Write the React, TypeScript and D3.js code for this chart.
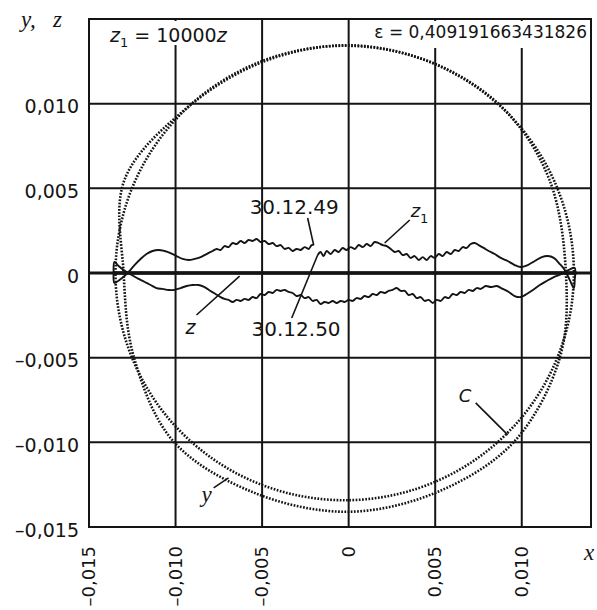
import React from "react";
import * as d3 from "d3";

// ---- data (all coordinate values below are in units of 10^-3) ----
const UNIT = 1e-3;
const xDomain = [-0.015, 0.014];
const yDomain = [-0.015, 0.015];
const xTicks = [-0.015, -0.01, -0.005, 0, 0.005, 0.01];
const yTicks = [-0.015, -0.01, -0.005, 0, 0.005, 0.01];
const epsilonText = "ε = 0,409191663431826";
const z1Factor = 10000;

// z1 trajectory: 30.12.50 -> right end -> lower branch -> left end -> 30.12.49
const z1UpperRight: [number, number][] = [
  [-1.79, 1.06], [-1.62, 1.24], [-1.45, 1.0], [-1.27, 1.3], [-1.04, 1.12], [-0.81, 1.36],
  [-0.58, 1.24], [-0.35, 1.48], [-0.12, 1.36], [0.12, 1.53], [0.35, 1.42], [0.58, 1.65],
  [0.81, 1.53], [1.04, 1.71], [1.27, 1.59], [1.5, 1.83], [1.73, 1.77], [1.97, 1.65],
  [2.2, 1.59], [2.43, 1.42], [2.66, 1.24], [2.89, 1.3], [3.12, 1.06], [3.35, 1.12],
  [3.58, 0.89], [3.81, 1.0], [4.05, 0.77], [4.28, 0.94], [4.51, 0.77], [4.74, 1.0],
  [4.97, 0.89], [5.2, 1.12], [5.43, 1.0], [5.66, 1.24], [5.9, 1.12], [6.13, 1.36],
  [6.36, 1.3], [6.59, 1.53], [6.82, 1.48], [7.05, 1.71], [7.28, 1.77], [7.51, 1.65],
  [7.8, 1.48], [8.09, 1.3], [8.44, 1.12], [8.79, 0.89], [9.19, 0.71], [9.59, 0.47],
  [9.94, 0.35], [10.35, 0.47], [10.75, 0.71], [11.16, 0.94], [11.5, 1.0], [11.85, 0.89],
  [12.2, 0.53], [12.48, 0.18], [12.77, -0.41], [13.01, -0.89], [13.06, -0.41], [13.06, 0.3],
];
const z1Lower: [number, number][] = [
  [12.72, 0.18], [12.31, -0.06], [11.85, -0.24], [11.44, -0.47], [11.04, -0.71], [10.64, -1.0],
  [10.29, -1.24], [9.94, -1.42], [9.59, -1.36], [9.25, -1.12], [8.9, -0.94], [8.55, -0.77],
  [8.21, -0.83], [7.92, -0.77], [7.63, -0.94], [7.4, -0.89], [7.17, -1.06], [6.94, -1.0],
  [6.7, -1.18], [6.47, -1.12], [6.24, -1.3], [6.01, -1.24], [5.78, -1.48], [5.55, -1.42],
  [5.32, -1.65], [5.09, -1.59], [4.86, -1.77], [4.62, -1.59], [4.39, -1.65], [4.16, -1.42],
  [3.93, -1.48], [3.7, -1.24], [3.47, -1.3], [3.24, -1.06], [3.01, -1.06], [2.77, -0.89],
  [2.54, -1.0], [2.31, -1.06], [2.08, -1.18], [1.85, -1.12], [1.62, -1.3], [1.39, -1.24],
  [1.16, -1.42], [0.92, -1.36], [0.69, -1.53], [0.46, -1.48], [0.23, -1.65], [0, -1.59],
  [-0.23, -1.71], [-0.46, -1.65], [-0.69, -1.77], [-0.92, -1.65], [-1.16, -1.77], [-1.39, -1.71],
  [-1.62, -1.83], [-1.85, -1.59], [-2.08, -1.65], [-2.31, -1.42], [-2.54, -1.48], [-2.77, -1.3],
  [-3.01, -1.36], [-3.24, -1.18], [-3.47, -1.12], [-3.7, -1.0], [-3.93, -1.06], [-4.16, -1.0],
  [-4.39, -1.18], [-4.62, -1.12], [-4.86, -1.3], [-5.09, -1.24], [-5.32, -1.48], [-5.55, -1.42],
  [-5.78, -1.59], [-6.01, -1.53], [-6.24, -1.65], [-6.47, -1.59], [-6.7, -1.71], [-6.94, -1.59],
  [-7.17, -1.53], [-7.4, -1.42], [-7.69, -1.24], [-7.98, -1.06], [-8.32, -0.83], [-8.67, -0.71],
  [-9.02, -0.71], [-9.36, -0.77], [-9.71, -0.89], [-10.06, -1.0], [-10.4, -1.0], [-10.75, -0.94],
  [-11.1, -0.89], [-11.44, -0.71], [-11.79, -0.53], [-12.14, -0.35], [-12.43, -0.18], [-12.72, 0],
  [-13.01, 0.18], [-13.29, 0.41], [-13.53, 0.65], [-13.58, 0.06], [-13.53, -0.59],
];
const z1UpperLeft: [number, number][] = [
  [-13.24, -0.41], [-12.95, -0.18], [-12.66, 0.12], [-12.37, 0.47], [-12.02, 0.83], [-11.68, 1.12],
  [-11.33, 1.3], [-10.98, 1.36], [-10.64, 1.3], [-10.29, 1.18], [-9.94, 1.0], [-9.59, 0.83],
  [-9.25, 0.77], [-8.9, 0.83], [-8.55, 0.94], [-8.21, 1.12], [-7.86, 1.3], [-7.63, 1.42],
  [-7.4, 1.36], [-7.17, 1.59], [-6.94, 1.53], [-6.7, 1.77], [-6.47, 1.71], [-6.24, 1.89],
  [-6.01, 1.77], [-5.78, 1.95], [-5.55, 1.89], [-5.32, 2.01], [-5.09, 1.83], [-4.86, 1.89],
  [-4.62, 1.71], [-4.39, 1.77], [-4.16, 1.59], [-3.93, 1.65], [-3.7, 1.42], [-3.47, 1.48],
  [-3.24, 1.3], [-3.01, 1.42], [-2.77, 1.36], [-2.54, 1.53], [-2.31, 1.42], [-2.14, 1.65],
  [-2.02, 1.65],
];

// circle C (centre and radii) and the curve y (closed)
const circleC = { cx: -0.23, cy: 0, rx: 13.24, ry: 13.42 };
const curveY: [number, number][] = [
  [0, 13.45], [5.0, 12.35], [9.0, 9.65], [11.6, 5.5], [12.55, 0], [12.2, -5.0],
  [9.55, -9.97], [5.2, -12.9], [0, -14.1], [-5.4, -13.0], [-10.1, -9.97], [-12.4, -5.0],
  [-13.0, 0], [-12.95, 5.5], [-9.4, 9.7], [-5.0, 12.45],
];

// annotations (anchor positions in data units, 10^-3)
const pointers: [number, number, number, number][] = [
  [-2.37, 3.25, -2.02, 1.65], // 30.12.49
  [-3.29, -2.66, -1.79, 1.06], // 30.12.50
  [3.53, 3.13, 2.08, 1.77], // z1
  [-8.79, -2.48, -6.3, -0.18], // z
  [-7.8, -12.69, -6.94, -12.1], // y
  [7.34, -7.67, 9.19, -9.56], // C
];

const fmt = (v: number) =>
  v === 0 ? "0" : (v < 0 ? "\u2013" : "") + Math.abs(v).toFixed(3).replace(".", ",");

const SANS = "DejaVu Sans, Verdana, sans-serif";
const SERIF = "Liberation Serif, Times New Roman, serif";
const INK = "#141414";

export default function App() {
  const x = d3.scaleLinear().domain(xDomain).range([89, 591]);
  const y = d3.scaleLinear().domain(yDomain).range([527, 19]);
  const X = (v: number) => x(v * UNIT);
  const Y = (v: number) => y(v * UNIT);

  const loop = [...z1UpperRight, ...z1Lower, ...z1UpperLeft];
  const loopPath = d3
    .line<[number, number]>()
    .x((d) => X(d[0]))
    .y((d) => Y(d[1]))
    .curve(d3.curveCatmullRom.alpha(0.5))(loop) as string;
  const zPath = d3
    .line<[number, number]>()
    .x((d) => X(d[0]))
    .y((d) => Y(d[1] / z1Factor))(loop) as string;
  const yPath = d3
    .line<[number, number]>()
    .x((d) => X(d[0]))
    .y((d) => Y(d[1]))
    .curve(d3.curveCatmullRomClosed.alpha(0.5))(curveY) as string;

  const [x0, x1] = x.range();
  const [y0, y1] = y.range();

  return (
    <svg
      width={597}
      height={610}
      style={{ position: "absolute", left: 0, top: 0, background: "#fff" }}
    >
      <rect x={0} y={0} width={597} height={610} fill="#fff" />
      {/* grid */}
      {xTicks.slice(1).map((t) => (
        <line key={"gx" + t} x1={x(t)} x2={x(t)} y1={y1} y2={y0} stroke={INK} strokeWidth={2} />
      ))}
      {yTicks.slice(1).map((t) => (
        <line
          key={"gy" + t}
          x1={x0}
          x2={x1}
          y1={y(t)}
          y2={y(t)}
          stroke={INK}
          strokeWidth={t === 0 ? 3 : 2}
        />
      ))}
      {/* label backgrounds */}
      <rect x={92} y={21} width={163} height={24} fill="#fff" />
      <rect x={362} y={21} width={227} height={27} fill="#fff" />
      {/* frame */}
      <rect x={x0} y={y1} width={x1 - x0} height={y0 - y1} fill="none" stroke={INK} strokeWidth={2} />

      {/* circle C and curve y */}
      <ellipse
        cx={X(circleC.cx)}
        cy={Y(circleC.cy)}
        rx={X(circleC.rx) - X(0)}
        ry={Y(0) - Y(circleC.ry)}
        fill="none"
        stroke={INK}
        strokeWidth={2.6}
        strokeDasharray="1.7 1.5"
      />
      <path d={yPath} fill="none" stroke={INK} strokeWidth={2.6} strokeDasharray="1.7 1.5" />

      {/* z (thick) and z1 loop */}
      <path d={zPath} fill="none" stroke={INK} strokeWidth={3.6} />
      <path d={loopPath} fill="none" stroke={INK} strokeWidth={1.9} strokeLinejoin="round" />

      {/* pointers */}
      {pointers.map((p, i) => (
        <line key={"p" + i} x1={X(p[0])} y1={Y(p[1])} x2={X(p[2])} y2={Y(p[3])} stroke={INK} strokeWidth={1.6} />
      ))}

      {/* y tick labels */}
      {yTicks.map((t) => (
        <text key={"ty" + t} x={79} y={y(t) + 9.5} textAnchor="end" fontFamily={SANS} fontSize={19} fill={INK}>
          {fmt(t)}
        </text>
      ))}
      {/* x tick labels (rotated) */}
      {xTicks.map((t) => (
        <text
          key={"tx" + t}
          transform={`translate(${x(t) + 6},546) rotate(-90)`}
          textAnchor="end"
          fontFamily={SANS}
          fontSize={18}
          fill={INK}
        >
          {fmt(t)}
        </text>
      ))}

      {/* axis names */}
      <text x={21} y={27} fontFamily={SERIF} fontStyle="italic" fontSize={23} fill={INK}>
        y,
      </text>
      <text x={53} y={27} fontFamily={SERIF} fontStyle="italic" fontSize={23} fill={INK}>
        z
      </text>
      <text x={584} y={560} fontFamily={SERIF} fontStyle="italic" fontSize={23} fill={INK}>
        x
      </text>

      {/* z1 = 10000z */}
      <text x={110} y={42} fontFamily={SANS} fontSize={19} fill={INK}>
        <tspan fontStyle="italic">z</tspan>
        <tspan fontSize={13} dy={5}>1</tspan>
        <tspan dy={-5}>{" = " + z1Factor}</tspan>
        <tspan fontStyle="italic">z</tspan>
      </text>
      {/* epsilon */}
      <text x={587} y={38} textAnchor="end" fontFamily={SANS} fontSize={17} fill={INK}>
        {epsilonText}
      </text>

      {/* curve annotations */}
      <text x={X(-5.72)} y={Y(3.48)} fontFamily={SANS} fontSize={20} fill={INK}>
        30.12.49
      </text>
      <text x={X(-5.61)} y={Y(-3.72)} fontFamily={SANS} fontSize={20} fill={INK}>
        30.12.50
      </text>
      <text x={X(3.58)} y={Y(3.3)} fontFamily={SANS} fontSize={18} fill={INK}>
        <tspan fontStyle="italic">z</tspan>
        <tspan fontSize={13} dy={6}>1</tspan>
      </text>
      <text x={X(-9.42)} y={Y(-3.6)} fontFamily={SANS} fontStyle="italic" fontSize={19} fill={INK}>
        z
      </text>
      <text x={X(-8.5)} y={Y(-13.51)} fontFamily={SERIF} fontStyle="italic" fontSize={23} fill={INK}>
        y
      </text>
      <text x={X(6.36)} y={Y(-7.61)} fontFamily={SANS} fontStyle="italic" fontSize={18} fill={INK}>
        C
      </text>
    </svg>
  );
}
